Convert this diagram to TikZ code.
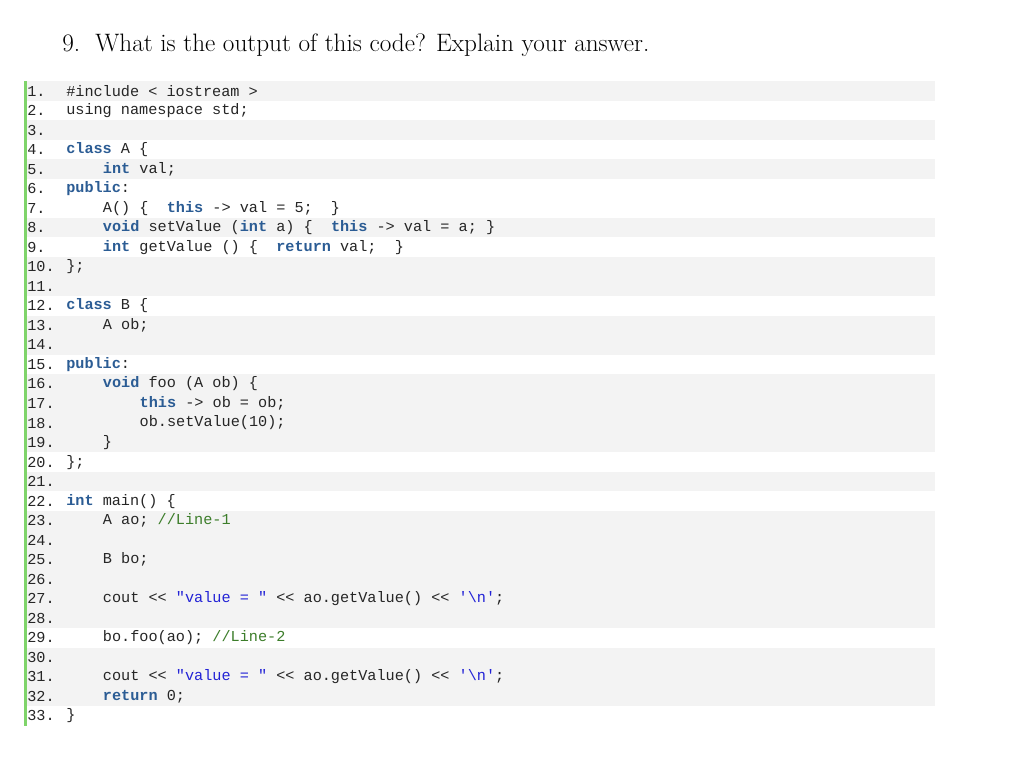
\documentclass[tikz,border=0pt]{standalone}
\usepackage{fontspec}
\setmonofont{Liberation Mono}
\definecolor{kw}{HTML}{2B5C94}
\definecolor{st}{HTML}{2323D6}
\definecolor{cm}{HTML}{3C7D2A}
\definecolor{band}{HTML}{F3F3F3}
\definecolor{bar}{HTML}{7FD46A}
\newcommand{\kw}[1]{\textcolor{kw}{\bfseries #1}}
\newcommand{\st}[1]{\textcolor{st}{#1}}
\newcommand{\cm}[1]{\textcolor{cm}{#1}}
\tikzset{cl/.style={anchor=west,inner sep=0pt,font=\ttfamily\fontsize{11.4}{14}\selectfont,text=black!85}}
\newcommand{\codeline}[3]{%
  \pgfmathsetmacro{\yy}{91+19.53*(#1-1)}%
  \node[cl] (n#1) at (27,\yy) {#1.};
  \node[cl] (c#1) at (66+36.7*#2,\yy) {#3};}
\begin{document}
\begin{tikzpicture}[x=0.75pt,y=-0.75pt]
\useasboundingbox (0,0) rectangle (1024,770);
\foreach \i in {1,3,5,8,10,11,13,14,16,17,18,19,21,23,24,25,26,27,28,30,31,32}{
  \fill[band] (24,{91+19.53*(\i-1)-9.77}) rectangle (935,{91+19.53*(\i-1)+9.77});}
\fill[bar] (24,81) rectangle (27,726);
\node[anchor=base west,inner sep=0pt,font=\fontsize{18.9}{22}\selectfont] (title) at (62,52) {9.\ \ What is the output of this code? Explain your answer.};
\codeline{1}{0}{\#include < iostream >}
\codeline{2}{0}{using namespace std;}
\codeline{3}{0}{}
\codeline{4}{0}{\kw{class} A \{}
\codeline{5}{1}{\kw{int} val;}
\codeline{6}{0}{\kw{public}:}
\codeline{7}{1}{A() \{\ \ \kw{this} -> val = 5;\ \ \}}
\codeline{8}{1}{\kw{void} setValue (\kw{int} a) \{\ \ \kw{this} -> val = a; \}}
\codeline{9}{1}{\kw{int} getValue () \{\ \ \kw{return} val;\ \ \}}
\codeline{10}{0}{\};}
\codeline{11}{0}{}
\codeline{12}{0}{\kw{class} B \{}
\codeline{13}{1}{A ob;}
\codeline{14}{0}{}
\codeline{15}{0}{\kw{public}:}
\codeline{16}{1}{\kw{void} foo (A ob) \{}
\codeline{17}{2}{\kw{this} -> ob = ob;}
\codeline{18}{2}{ob.setValue(10);}
\codeline{19}{1}{\}}
\codeline{20}{0}{\};}
\codeline{21}{0}{}
\codeline{22}{0}{\kw{int} main() \{}
\codeline{23}{1}{A ao; \cm{//Line-1}}
\codeline{24}{0}{}
\codeline{25}{1}{B bo;}
\codeline{26}{0}{}
\codeline{27}{1}{cout << \st{"value = "} << ao.getValue() << \st{'\textbackslash n'};}
\codeline{28}{0}{}
\codeline{29}{1}{bo.foo(ao); \cm{//Line-2}}
\codeline{30}{0}{}
\codeline{31}{1}{cout << \st{"value = "} << ao.getValue() << \st{'\textbackslash n'};}
\codeline{32}{1}{\kw{return} 0;}
\codeline{33}{0}{\}}
\end{tikzpicture}
\end{document}
